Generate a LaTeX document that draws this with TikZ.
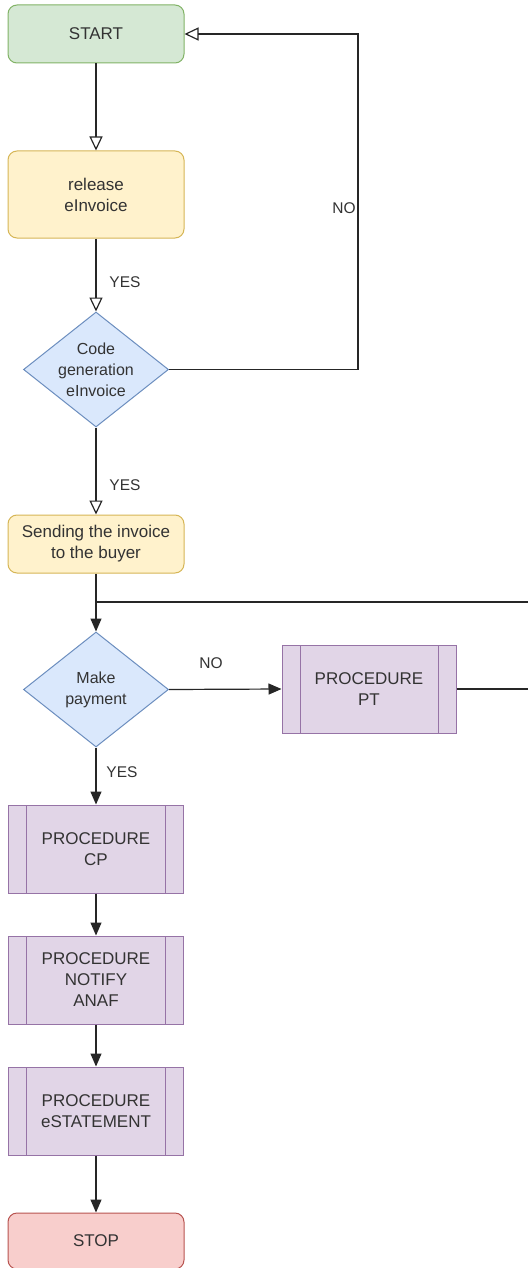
\documentclass[tikz,border=0pt]{standalone}
\usepackage{fontspec}
\setmainfont{Liberation Sans}
\usetikzlibrary{arrows.meta,shapes.geometric}
\definecolor{gfill}{HTML}{D5E8D4}\definecolor{gline}{HTML}{82B366}
\definecolor{yfill}{HTML}{FFF2CC}\definecolor{yline}{HTML}{D6B656}
\definecolor{bfill}{HTML}{DAE8FC}\definecolor{bline}{HTML}{6C8EBF}
\definecolor{pfill}{HTML}{E1D5E7}\definecolor{pline}{HTML}{9673A6}
\definecolor{rfill}{HTML}{F8CECC}\definecolor{rline}{HTML}{B85450}
\definecolor{txt}{HTML}{333333}
\begin{document}
\begin{tikzpicture}[x=1pt,y=-1pt,
  box/.style={draw, rounded corners=9pt, minimum width=176pt, inner sep=0pt, align=center, text=txt, font=\fontsize{17}{21}\selectfont, line width=1pt},
  green/.style={box, fill=gfill, draw=gline},
  yellow/.style={box, fill=yfill, draw=yline},
  red/.style={box, fill=rfill, draw=rline},
  proc/.style={draw=pline, fill=pfill, minimum width=175pt, minimum height=88pt, inner sep=0pt, align=center, text=txt, font=\fontsize{17}{21}\selectfont, line width=1pt,
    path picture={\draw[pline, line width=1pt] ([xshift=18pt]path picture bounding box.north west) -- ([xshift=18pt]path picture bounding box.south west);
      \draw[pline, line width=1pt] ([xshift=-18pt]path picture bounding box.north east) -- ([xshift=-18pt]path picture bounding box.south east);}},
  dia/.style={shape=diamond, draw=bline, fill=bfill, minimum width=145pt, minimum height=115pt, inner sep=0pt, line width=1pt},
  dtext/.style={align=center, text=txt, font=\fontsize{16}{21}\selectfont, inner sep=0pt},
  lbl/.style={text=txt, font=\fontsize{15.5}{18}\selectfont, inner sep=0pt},
  conn/.style={line width=1.2pt, draw=black!85},
  oarrow/.style={conn, -{Triangle[open, length=14pt, width=13pt]}},
  farrow/.style={conn, -{Triangle[length=13pt, width=11pt]}}
]
\fill[white] (0,0) rectangle (528,1268);
\useasboundingbox (0,0) rectangle (528,1268);

\node[green, minimum height=58pt] (start) at (96,34) {START};
\node[yellow, minimum height=87pt] (release) at (96,194.5) {release\\eInvoice};
\node[dia, label={[dtext]center:Code\\generation\\eInvoice}] (code) at (96,369.5) {};
\node[yellow, minimum height=58pt] (send) at (96,544) {Sending the invoice\\to the buyer};
\node[dia, label={[dtext]center:Make\\payment}] (pay) at (96,689.5) {};
\node[proc, minimum width=174pt] (pt) at (369,689) {PROCEDURE\\PT};
\node[proc] (cp) at (96,849) {PROCEDURE\\CP};
\node[proc] (notify) at (96,980) {PROCEDURE\\NOTIFY\\ANAF};
\node[proc] (estmt) at (96,1111) {PROCEDURE\\eSTATEMENT};
\node[red, minimum height=56pt] (stop) at (96,1241) {STOP};

\coordinate (loopa) at (358,369.5);
\coordinate (loopb) at (358,34);
\coordinate (j) at (96,602);
\coordinate (re1) at (528,602);
\coordinate (re2) at (528,689);

\draw[oarrow] (start) -- (release);
\draw[oarrow] (release) -- (code.north);
\draw[oarrow] (code.east) -- (loopa) -- (loopb) -- (start.east);
\draw[oarrow] (code.south) -- (send);
\draw[farrow] (send) -- (pay.north);
\draw[conn] (j) -- (re1);
\draw[farrow] (pay.east) -- (pt.west);
\draw[conn] (pt.east) -- (re2);
\draw[farrow] (pay.south) -- (cp);
\draw[farrow] (cp) -- (notify);
\draw[farrow] (notify) -- (estmt);
\draw[farrow] (estmt) -- (stop);

\node[lbl] (yes1) at (125,282) {YES};
\node[lbl] (no1) at (344,208) {NO};
\node[lbl] (yes2) at (125,485) {YES};
\node[lbl] (no2) at (211,663) {NO};
\node[lbl] (yes3) at (122,772) {YES};
\end{tikzpicture}
\end{document}
